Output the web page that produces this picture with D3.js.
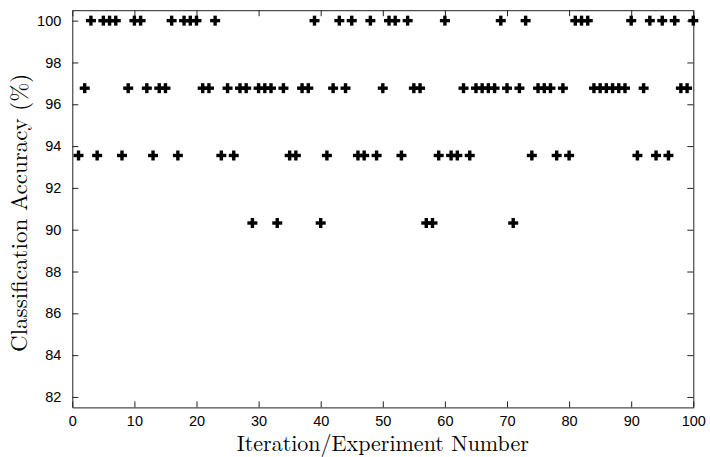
<!DOCTYPE html>
<html>
<head>
<meta charset="utf-8">
<script src="https://cdn.jsdelivr.net/npm/d3@7"></script>
<style>
  html, body { margin: 0; padding: 0; background: #fff; }
  svg { display: block; }
</style>
</head>
<body>
<svg id="chart" width="710" height="457"></svg>
<script>
// Classification accuracy per run (fraction of 31 test samples correct).
const acc100 = [3, 5, 6, 7, 10, 11, 16, 18, 19, 20, 23, 39, 43, 45, 48, 51, 52, 54, 60, 69, 73, 81, 82, 83, 90, 93, 95, 97, 100];
const acc9677 = [2, 9, 12, 14, 15, 21, 22, 25, 27, 28, 30, 31, 32, 34, 37, 38, 42, 44, 50, 55, 56, 63, 65, 66, 67, 68, 70, 72, 75, 76, 77, 79, 84, 85, 86, 87, 88, 89, 92, 98, 99];
const acc9355 = [1, 4, 8, 13, 17, 24, 26, 35, 36, 41, 46, 47, 49, 53, 59, 61, 62, 64, 74, 78, 80, 91, 94, 96];
const acc9032 = [29, 33, 40, 57, 58, 71];
const levels = [
  { value: 100.00, runs: acc100 },
  { value: 96.77, runs: acc9677 },
  { value: 93.55, runs: acc9355 },
  { value: 90.32, runs: acc9032 }
];
const xTicks = [0, 10, 20, 30, 40, 50, 60, 70, 80, 90, 100];
const yTicks = [82, 84, 86, 88, 90, 92, 94, 96, 98, 100];

const points = [];
levels.forEach(l => l.runs.forEach(r => points.push({ run: r, acc: l.value })));
points.sort((a, b) => a.run - b.run);

const svg = d3.select("#chart");
const plotLeft = 72.3, plotRight = 693.3, plotTop = 10.2, plotBottom = 407.4;

const x = d3.scaleLinear().domain([0, 100]).range([plotLeft, plotRight]);
const y = d3.scaleLinear().domain([81.5, 100.5]).range([plotBottom, plotTop]);

const tickLen = 6;
const axisColor = "#222";
const tickFont = "'Liberation Sans', Arial, sans-serif";

// bottom axis, ticks pointing inward
const gx = svg.append("g").attr("transform", `translate(0,${plotBottom})`)
  .call(d3.axisBottom(x).tickValues(xTicks).tickSizeInner(-tickLen).tickSizeOuter(0).tickPadding(8));
// top axis (box edge)
const gxt = svg.append("g").attr("transform", `translate(0,${plotTop})`)
  .call(d3.axisTop(x).tickValues(xTicks).tickSizeInner(-tickLen).tickSizeOuter(0).tickFormat(""));
// left axis
const gy = svg.append("g").attr("transform", `translate(${plotLeft},0)`)
  .call(d3.axisLeft(y).tickValues(yTicks).tickSizeInner(-tickLen).tickSizeOuter(0).tickPadding(11));
// right axis (box edge)
const gyr = svg.append("g").attr("transform", `translate(${plotRight},0)`)
  .call(d3.axisRight(y).tickValues(yTicks).tickSizeInner(-tickLen).tickSizeOuter(0).tickFormat(""));

[gx, gxt, gy, gyr].forEach(g => {
  g.selectAll(".domain").attr("stroke", axisColor).attr("stroke-width", 1);
  g.selectAll(".tick line").attr("stroke", axisColor).attr("stroke-width", 1);
  g.selectAll(".tick text").attr("fill", "#000")
    .style("font-family", tickFont).style("font-size", "14.5px");
});

// plus markers
const half = 5;
const marks = svg.append("g").attr("stroke", "#000").attr("stroke-width", 3.4).attr("stroke-linecap", "butt");
marks.selectAll("g.pt").data(points).join("g").attr("class", "pt")
  .attr("transform", d => `translate(${x(d.run)},${y(d.acc)})`)
  .each(function () {
    const g = d3.select(this);
    g.append("line").attr("x1", -half).attr("x2", half).attr("y1", 0).attr("y2", 0);
    g.append("line").attr("x1", 0).attr("x2", 0).attr("y1", -half).attr("y2", half);
  });

// axis titles
const serif = "'Latin Modern Roman', 'CMU Serif', 'Liberation Serif', 'Times New Roman', serif";
svg.append("text")
  .attr("x", (plotLeft + plotRight) / 2).attr("y", 451)
  .attr("text-anchor", "middle")
  .style("font-family", serif).style("font-size", "22px")
  .text("Iteration/Experiment Number");
svg.append("text")
  .attr("transform", `translate(27,${(plotTop + plotBottom) / 2 + 4}) rotate(-90)`)
  .attr("text-anchor", "middle")
  .style("font-family", serif).style("font-size", "23px")
  .text("Classification Accuracy (%)");
</script>
</body>
</html>
